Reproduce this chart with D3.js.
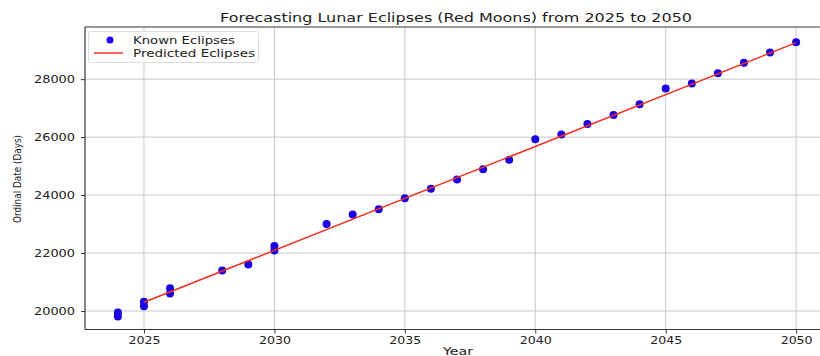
<!DOCTYPE html>
<html><head><meta charset="utf-8">
<script src="https://cdn.jsdelivr.net/npm/d3@7"></script>
<style>body{margin:0;background:#fff}svg{display:block}text{font-family:"DejaVu Sans",sans-serif;fill:#222}</style>
</head><body><svg id="c" width="820" height="356"></svg>
<script>
const knownYears  = [2024,2024,2025,2025,2026,2026,2028,2029,2030,2030,2032,2033,2034,2035,2036,2037,2038,2039,2040,2041,2042,2043,2044,2045,2046,2047,2048,2049,2050];
const knownValues = [19950,19810,20320,20160,20780,20600,21400,21600,22240,22090,23000,23330,23510,23890,24220,24540,24890,25220,25930,26090,26450,26760,27130,27680,27850,28200,28570,28920,29270];
const predictedYears  = [2025, 2050];
const predictedValues = [20300, 29260];
const xTicks = [2025,2030,2035,2040,2045,2050];
const yTicks = [20000,22000,24000,26000,28000];
const titleText = "Forecasting Lunar Eclipses (Red Moons) from 2025 to 2050";

const svg = d3.select("#c");
const L=85, R=829, T=27, B=329.5;
const x = d3.scaleLinear().domain([2022.74, 2051.26]).range([L, R]);
const y = d3.scaleLinear().domain([19360, 29800]).range([B, T]);

// grid
svg.append("g").selectAll("line").data(xTicks).join("line")
  .attr("x1",d=>x(d)).attr("x2",d=>x(d)).attr("y1",T).attr("y2",B)
  .attr("stroke","#c8c8c8").attr("stroke-width",1);
svg.append("g").selectAll("line").data(yTicks).join("line")
  .attr("x1",L).attr("x2",R).attr("y1",d=>y(d)).attr("y2",d=>y(d))
  .attr("stroke","#c8c8c8").attr("stroke-width",1);

// axes
const xa = svg.append("g").attr("transform",`translate(0,${B})`)
  .call(d3.axisBottom(x).tickValues(xTicks).tickFormat(d3.format("d")).tickSize(4).tickPadding(3));
xa.select(".domain").remove();
xa.selectAll("text").attr("font-size",10.5).attr("fill","#333").attr("textLength",32).attr("lengthAdjust","spacingAndGlyphs").attr("font-family","DejaVu Sans");
const ya = svg.append("g").attr("transform",`translate(${L},0)`)
  .call(d3.axisLeft(y).tickValues(yTicks).tickFormat(d3.format("d")).tickSize(4).tickPadding(6));
ya.select(".domain").remove();
ya.selectAll("text").attr("font-size",10.5).attr("fill","#333").attr("textLength",41).attr("lengthAdjust","spacingAndGlyphs").attr("font-family","DejaVu Sans");
svg.selectAll(".tick line").attr("stroke","#333");

// spines
svg.append("line").attr("x1",L).attr("x2",R).attr("y1",B).attr("y2",B).attr("stroke","#333").attr("stroke-width",1.2);
svg.append("line").attr("x1",L).attr("x2",L).attr("y1",T).attr("y2",B).attr("stroke","#333").attr("stroke-width",1.2);
svg.append("line").attr("x1",L).attr("x2",R).attr("y1",T).attr("y2",T).attr("stroke","#333").attr("stroke-width",1.2);

// scatter
svg.append("g").selectAll("circle").data(knownYears.map((d,i)=>[d,knownValues[i]])).join("circle")
  .attr("cx",d=>x(d[0])).attr("cy",d=>y(d[1])).attr("r",4).attr("fill","#1a00e0");

// line
svg.append("path").datum(predictedYears.map((d,i)=>[d,predictedValues[i]]))
  .attr("d",d3.line().x(d=>x(d[0])).y(d=>y(d[1])))
  .attr("fill","none").attr("stroke","#f03020").attr("stroke-width",1.5);

// title
svg.append("text").attr("x",456).attr("y",22).attr("text-anchor","middle").attr("font-size",11.5)
  .attr("textLength",472).attr("lengthAdjust","spacingAndGlyphs").text(titleText);
// axis labels
svg.append("text").attr("x",458).attr("y",355).attr("text-anchor","middle").attr("font-size",10)
  .attr("textLength",30).attr("lengthAdjust","spacingAndGlyphs").text("Year");
svg.append("text").attr("transform","translate(21,179) rotate(-90)").attr("text-anchor","middle").attr("font-size",10)
  .attr("textLength",88).attr("lengthAdjust","spacingAndGlyphs").text("Ordinal Date (Days)");

// legend
const lg = svg.append("g");
lg.append("rect").attr("x",88.5).attr("y",31.5).attr("width",170).attr("height",31).attr("rx",2)
  .attr("fill","#fff").attr("fill-opacity",0.85).attr("stroke","#ddd");
lg.append("circle").attr("cx",110).attr("cy",40).attr("r",3.5).attr("fill","#1a00e0");
lg.append("line").attr("x1",94).attr("x2",123).attr("y1",53).attr("y2",53).attr("stroke","#f03020").attr("stroke-width",1.5);
lg.append("text").attr("x",133).attr("y",44).attr("font-size",10.5).attr("textLength",102).attr("lengthAdjust","spacingAndGlyphs").text("Known Eclipses");
lg.append("text").attr("x",133).attr("y",57).attr("font-size",10.5).attr("textLength",122).attr("lengthAdjust","spacingAndGlyphs").text("Predicted Eclipses");
</script></body></html>
